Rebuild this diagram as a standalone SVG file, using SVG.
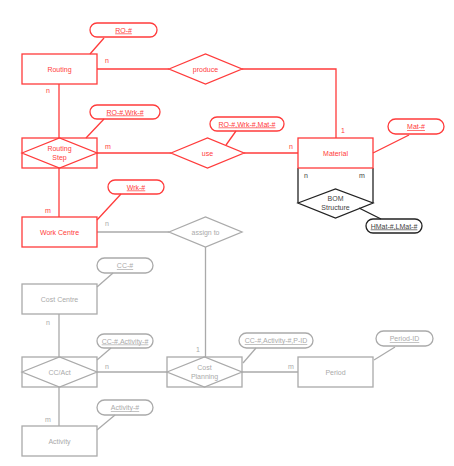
<svg xmlns="http://www.w3.org/2000/svg" width="454" height="466" viewBox="0 0 454 466">
<style>
text{font-family:"Liberation Sans",Arial,sans-serif;font-size:7px;text-anchor:middle}
.r{fill:none;stroke:#ff3b3b;stroke-width:1.3}
.g{fill:none;stroke:#aaaaaa;stroke-width:1.3}
.k{fill:none;stroke:#222222;stroke-width:1.3}
.rt{fill:#ff3b3b}
.gt{fill:#aaaaaa}
.kt{fill:#444444}
.u{text-decoration:underline}
</style>
<rect width="454" height="466" fill="#ffffff"/>
<g id="connectors">
<line class="r" x1="90" y1="54" x2="104" y2="38"/>
<line class="r" x1="97" y1="69" x2="169" y2="69"/>
<polyline class="r" points="242,69 336,69 336,138"/>
<line class="r" x1="373" y1="153" x2="409" y2="135"/>
<line class="r" x1="59" y1="84" x2="59" y2="138"/>
<line class="r" x1="86" y1="138" x2="104" y2="119"/>
<line class="r" x1="97" y1="153" x2="171" y2="153"/>
<line class="r" x1="244" y1="153" x2="298" y2="153"/>
<line class="r" x1="226" y1="145" x2="236" y2="131"/>
<line class="r" x1="59" y1="168" x2="59" y2="217"/>
<line class="r" x1="97" y1="220" x2="121" y2="194"/>
<line class="g" x1="97" y1="232" x2="169" y2="232"/>
<line class="g" x1="205.5" y1="247" x2="205.5" y2="357"/>
<line class="g" x1="97" y1="287" x2="113" y2="273"/>
<line class="g" x1="59" y1="314" x2="59" y2="357"/>
<line class="g" x1="97" y1="360" x2="111" y2="348"/>
<line class="g" x1="97" y1="372" x2="167" y2="372"/>
<line class="g" x1="242" y1="372" x2="298" y2="372"/>
<line class="g" x1="243" y1="363" x2="256" y2="348"/>
<line class="g" x1="374" y1="360" x2="395" y2="347"/>
<line class="g" x1="59" y1="387" x2="59" y2="426"/>
<line class="g" x1="97" y1="430" x2="115" y2="415"/>
<line class="k" x1="298" y1="168" x2="298" y2="203"/>
<line class="k" x1="373" y1="168" x2="373" y2="203"/>
<line class="k" x1="359" y1="208" x2="381" y2="219"/>
<text class="rt" x="107" y="63">n</text>
<text class="rt" x="343" y="133">1</text>
<text class="rt" x="48" y="93">n</text>
<text class="rt" x="108" y="149">m</text>
<text class="rt" x="291" y="149">n</text>
<text class="rt" x="48" y="213">m</text>
<text class="gt" x="107" y="226">n</text>
<text class="gt" x="198" y="352">1</text>
<text class="gt" x="48" y="325">n</text>
<text class="gt" x="107" y="369">n</text>
<text class="gt" x="291" y="369">m</text>
<text class="gt" x="48" y="422">m</text>
<text class="kt" x="306" y="178">n</text>
<text class="kt" x="362" y="178">m</text>
</g>
<g id="routing">
<rect class="r" x="22" y="54" width="75" height="30"/>
<text class="rt" x="59.5" y="71.5">Routing</text>
</g>
<g id="attr-ro">
<rect class="r" x="90" y="23" width="67" height="14" rx="7"/>
<text class="rt u" x="123.5" y="32.5">RO-#</text>
</g>
<g id="produce">
<polygon class="r" points="169,69 205.5,54 242,69 205.5,84"/>
<text class="rt" x="205.5" y="71.5">produce</text>
</g>
<g id="material">
<rect class="r" x="298" y="138" width="75" height="30"/>
<text class="rt" x="335.5" y="155.5">Material</text>
</g>
<g id="attr-mat">
<rect class="r" x="388" y="119" width="56" height="15" rx="7.5"/>
<text class="rt u" x="416" y="129">Mat-#</text>
</g>
<g id="routing-step">
<rect class="r" x="22" y="138" width="75" height="30"/>
<polygon class="r" points="22,153 59.5,138 97,153 59.5,168"/>
<text class="rt" x="59.5" y="151">Routing</text>
<text class="rt" x="59.5" y="159.5">Step</text>
</g>
<g id="attr-ro-wrk">
<rect class="r" x="90" y="105" width="70" height="14" rx="7"/>
<text class="rt u" x="125" y="114.5">RO-#,Wrk-#</text>
</g>
<g id="use">
<polygon class="r" points="171,153 207.5,138 244,153 207.5,168"/>
<text class="rt" x="207.5" y="155.5">use</text>
</g>
<g id="attr-ro-wrk-mat">
<rect class="r" x="210" y="117" width="74" height="14" rx="7"/>
<text class="rt u" x="247" y="126.5">RO-#,Wrk-#,Mat-#</text>
</g>
<g id="work-centre">
<rect class="r" x="22" y="217" width="75" height="30"/>
<text class="rt" x="59.5" y="234.5">Work Centre</text>
</g>
<g id="attr-wrk">
<rect class="r" x="108" y="180" width="56" height="14" rx="7"/>
<text class="rt u" x="136" y="189.5">Wrk-#</text>
</g>
<g id="bom-structure">
<polygon class="k" points="298,203 335.5,189 373,203 335.5,218"/>
<text class="kt" x="335.5" y="201">BOM</text>
<text class="kt" x="335.5" y="209.5">Structure</text>
</g>
<g id="attr-hmat-lmat">
<rect class="k" x="366" y="219" width="56" height="14" rx="7"/>
<text class="kt u" x="394" y="228.5">HMat-#,LMat-#</text>
</g>
<g id="assign-to">
<polygon class="g" points="169,232 205.5,217 242,232 205.5,247"/>
<text class="gt" x="205.5" y="234.5">assign to</text>
</g>
<g id="cost-centre">
<rect class="g" x="22" y="284" width="75" height="30"/>
<text class="gt" x="59.5" y="301.5">Cost Centre</text>
</g>
<g id="attr-cc">
<rect class="g" x="97" y="258" width="56" height="15" rx="7.5"/>
<text class="gt u" x="125" y="268">CC-#</text>
</g>
<g id="cc-act">
<rect class="g" x="22" y="357" width="75" height="30"/>
<polygon class="g" points="22,372 59.5,357 97,372 59.5,387"/>
<text class="gt" x="59.5" y="374.5">CC/Act</text>
</g>
<g id="attr-cc-activity">
<rect class="g" x="97" y="334" width="56" height="14" rx="7"/>
<text class="gt u" x="125" y="343.5">CC-#,Activity-#</text>
</g>
<g id="cost-planning">
<rect class="g" x="167" y="357" width="75" height="30"/>
<polygon class="g" points="167,372 204.5,357 242,372 204.5,387"/>
<text class="gt" x="204.5" y="370">Cost</text>
<text class="gt" x="204.5" y="378.5">Planning</text>
</g>
<g id="attr-cc-activity-pid">
<rect class="g" x="239" y="333" width="74" height="15" rx="7.5"/>
<text class="gt u" x="276" y="343">CC-#,Activity-#,P-ID</text>
</g>
<g id="period">
<rect class="g" x="298" y="357" width="75" height="30"/>
<text class="gt" x="335.5" y="374.5">Period</text>
</g>
<g id="attr-period-id">
<rect class="g" x="376" y="331" width="57" height="15" rx="7.5"/>
<text class="gt u" x="404.5" y="341">Period-ID</text>
</g>
<g id="activity">
<rect class="g" x="22" y="426" width="75" height="30"/>
<text class="gt" x="59.5" y="443.5">Activity</text>
</g>
<g id="attr-activity">
<rect class="g" x="97" y="400" width="56" height="15" rx="7.5"/>
<text class="gt u" x="125" y="410">Activity-#</text>
</g>
</svg>
